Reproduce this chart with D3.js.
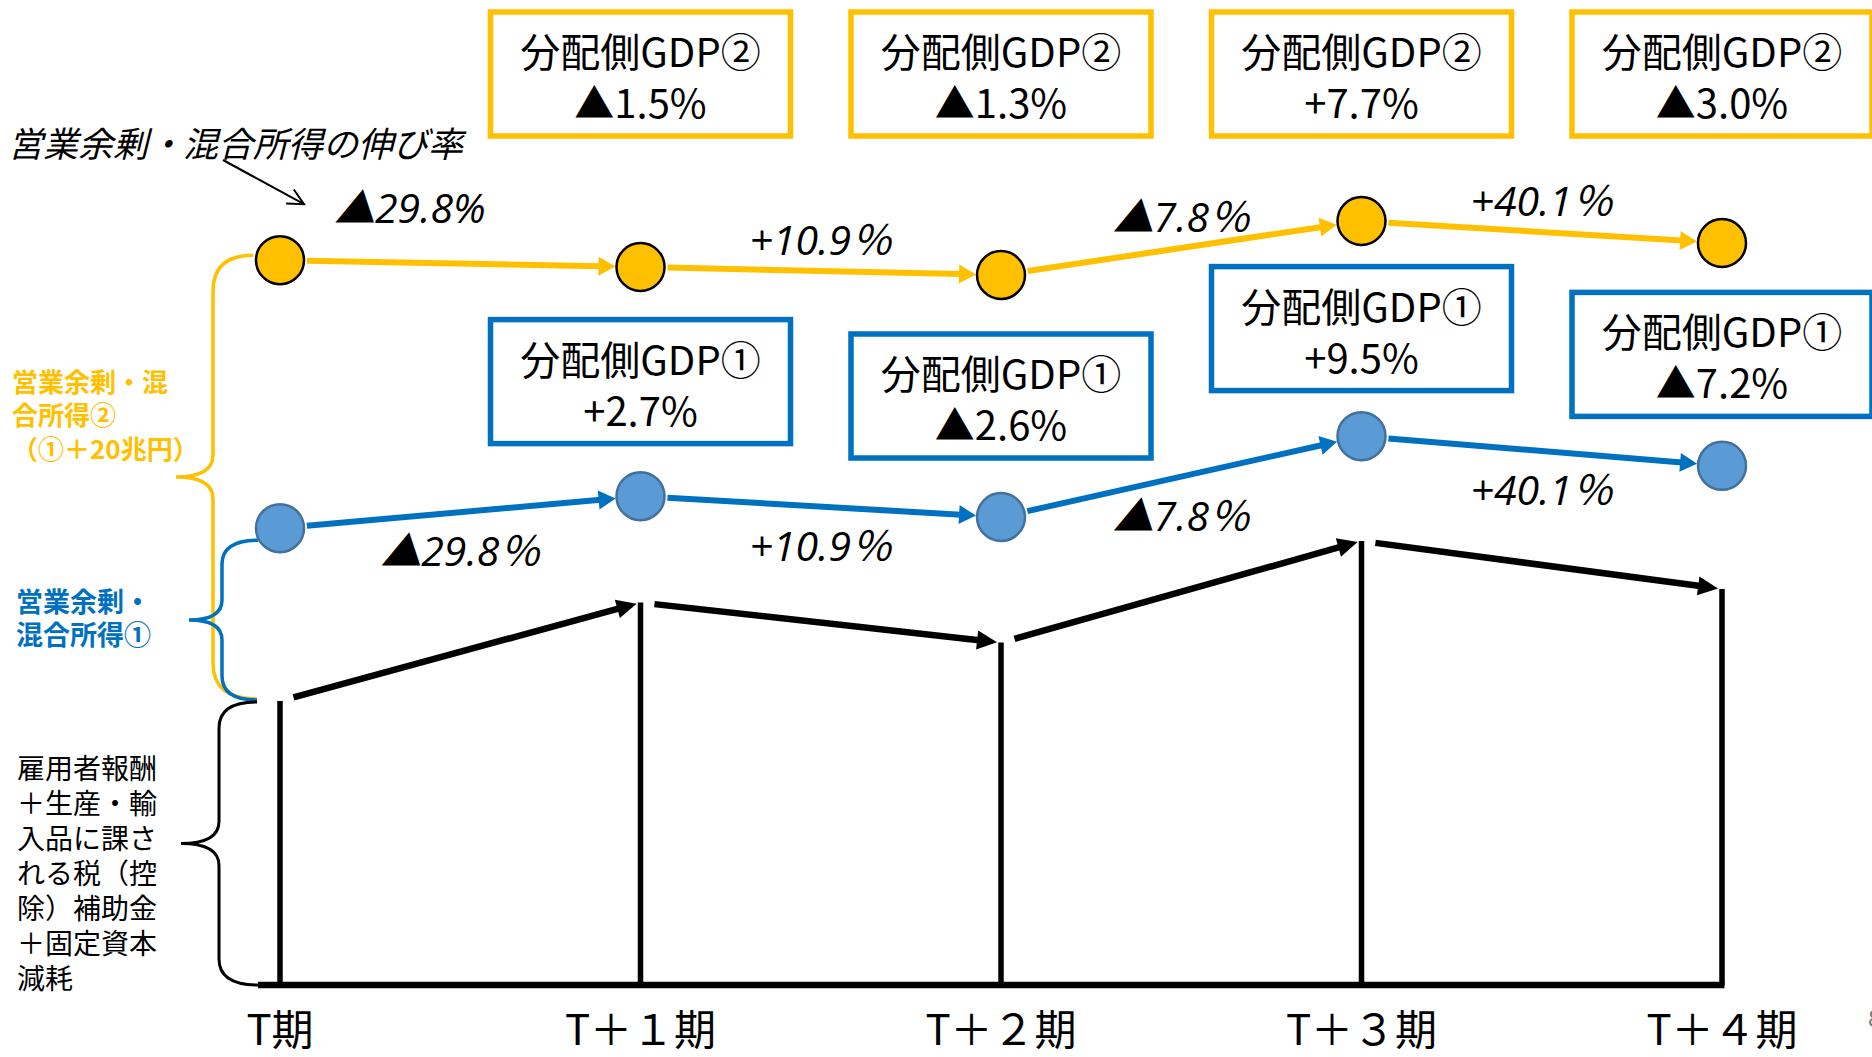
<!DOCTYPE html>
<html><head><meta charset="utf-8">
<script src="https://cdn.jsdelivr.net/npm/d3@7"></script>
<style>html,body{margin:0;padding:0;background:#fff;overflow:hidden}</style>
</head><body><svg id="c" width="1872" height="1057"></svg>
<script>
// ---- data (levels in relative units) ----
const periods = ["T期", "T＋１期", "T＋２期", "T＋３期", "T＋４期"];
const baseLevel = [35.5, 47.8, 42.8, 55.5, 49.5];      // 雇用者報酬＋… level
const blueLevel = [57.1, 61.1, 58.5, 68.6, 64.9];      // 営業余剰・混合所得①
const yellowLevel = [90.6, 89.75, 88.75, 95.5, 92.75]; // 営業余剰・混合所得②
const yellowRates = ["▲29.8%", "+10.9％", "▲7.8％", "+40.1％"];
const blueRates = ["▲29.8％", "+10.9％", "▲7.8％", "+40.1％"];
const gdp2Rates = ["▲1.5%", "▲1.3%", "+7.7%", "▲3.0%"];
const gdp1Rates = ["+2.7%", "▲2.6%", "+9.5%", "▲7.2%"];
const gdp2Title = "分配側GDP②";
const gdp1Title = "分配側GDP①";
const titleText = "営業余剰・混合所得の伸び率";
const yellowLabel = ["営業余剰・混", "合所得②", "（①＋20兆円）"];
const blueLabel = ["営業余剰・", "混合所得①"];
const baseLabel = ["雇用者報酬", "＋生産・輸", "入品に課さ", "れる税（控", "除）補助金", "＋固定資本", "減耗"];

// ---- setup ----
const svg = d3.select("#c");
svg.append("rect").attr("width", 1872).attr("height", 1057).attr("fill", "#fff");
const x = d3.scalePoint().domain(periods).range([280, 1722]);
const y = d3.scaleLinear().domain([0, 100]).range([985, 185]);
const YEL = "#FFC000", BLUE = "#0070C0", BLUEFILL = "#5B9BD5", BLUESTROKE = "#41719C";
const JP = "'Noto Sans CJK JP','Noto Sans',sans-serif";
const NUM = "'Open Sans','Noto Sans CJK JP',sans-serif";
const R = 24;

function arrow(g, x1, y1, x2, y2, o) {
  const dx = x2 - x1, dy = y2 - y1, L = Math.hypot(dx, dy), ux = dx / L, uy = dy / L;
  const sx = x1 + ux * o.startGap, sy = y1 + uy * o.startGap;
  const tx = x2 - ux * o.endGap, ty = y2 - uy * o.endGap;
  const bx = tx - ux * o.headLen, by = ty - uy * o.headLen;
  g.append("line").attr("x1", sx).attr("y1", sy).attr("x2", bx + ux * 2).attr("y2", by + uy * 2)
    .attr("stroke", o.color).attr("stroke-width", o.width);
  const px = -uy, py = ux, hw = o.headW / 2;
  g.append("path").attr("d", `M${tx},${ty}L${bx + px * hw},${by + py * hw}L${bx - px * hw},${by - py * hw}Z`)
    .attr("fill", o.color);
}
function brace(g, bx, tipX, y0, y1, end0, end1, rEnd, rMid, color, w) {
  const ym = (y0 + y1) / 2;
  const d = `M${end0},${y0}Q${bx},${y0} ${bx},${y0 + rEnd}L${bx},${ym - rMid}Q${bx},${ym} ${tipX},${ym}` +
    `Q${bx},${ym} ${bx},${ym + rMid}L${bx},${y1 - rEnd}Q${bx},${y1} ${end1},${y1}`;
  g.append("path").attr("d", d).attr("fill", "none").attr("stroke", color).attr("stroke-width", w);
}

const x0 = x(periods[0]);

// ---- braces ----
const gb = svg.append("g");
brace(gb, x0 - 67, x0 - 104, y(yellowLevel[0]) - 5, y(baseLevel[0]) - 2, x0 - 27, x0 - 23, 36, 22, YEL, 3.5);
brace(gb, x0 - 58, x0 - 91, y(blueLevel[0]) + 12, y(baseLevel[0]) - 1, x0 - 22, x0 - 23, 24, 20, BLUE, 3.5);
brace(gb, x0 - 61, x0 - 99, y(baseLevel[0]) + 1, y(0), x0 - 23, x0 - 22, 26, 22, "#000", 3);

// ---- base bars and axis ----
const gbar = svg.append("g");
gbar.append("line").attr("x1", x0 - 22).attr("x2", x(periods[4]) + 2.5).attr("y1", y(0)).attr("y2", y(0))
  .attr("stroke", "#000").attr("stroke-width", 6.5);
periods.forEach((p, i) => {
  gbar.append("line").attr("x1", x(p)).attr("x2", x(p)).attr("y1", y(baseLevel[i])).attr("y2", y(0))
    .attr("stroke", "#000").attr("stroke-width", 5.5);
});
d3.pairs(periods.map((p, i) => [x(p), y(baseLevel[i])])).forEach(([a, b]) => {
  arrow(gbar, a[0], a[1], b[0], b[1], { color: "#000", width: 6.5, startGap: 14, endGap: 4, headLen: 20, headW: 19 });
});

// ---- series lines ----
function series(levels, color, fill, stroke, rates, below) {
  const g = svg.append("g");
  const pts = periods.map((p, i) => [x(p), y(levels[i])]);
  d3.pairs(pts).forEach(([a, b], i) => {
    arrow(g, a[0], a[1], b[0], b[1], { color, width: 6, startGap: R + 3, endGap: R + 1, headLen: 17, headW: 19 });
    // label placed along the segment; first yellow label sits nearer the start, next to the callout
    const t = (!below && i === 0) ? 0.36 : 0.5;
    const mx = a[0] + (b[0] - a[0]) * t, my = a[1] + (b[1] - a[1]) * t;
    const dy = below ? 38 : (i === 0 ? -56 : -32);
    g.append("text").attr("x", mx).attr("y", my + dy)
      .attr("text-anchor", "middle").attr("dominant-baseline", "central")
      .attr("font-family", NUM).attr("font-style", "italic").attr("font-size", 41).attr("fill", "#000")
      .text(rates[i]);
  });
  g.selectAll("circle").data(pts).join("circle")
    .attr("cx", d => d[0]).attr("cy", d => d[1]).attr("r", R)
    .attr("fill", fill).attr("stroke", stroke).attr("stroke-width", 2.5);
}
series(yellowLevel, YEL, YEL, "#000", yellowRates, false);
series(blueLevel, BLUE, BLUEFILL, BLUESTROKE, blueRates, true);

// ---- boxes ----
function box(cx, top, color, title, rate) {
  const g = svg.append("g");
  g.append("rect").attr("x", cx - 150).attr("y", top).attr("width", 300).attr("height", 124)
    .attr("fill", "#fff").attr("stroke", color).attr("stroke-width", 5.5);
  g.append("text").attr("x", cx).attr("y", top + 38).attr("text-anchor", "middle").attr("dominant-baseline", "central")
    .attr("font-family", JP).attr("font-size", 40).attr("fill", "#000").text(title);
  g.append("text").attr("x", cx).attr("y", top + 89).attr("text-anchor", "middle").attr("dominant-baseline", "central")
    .attr("font-family", JP).attr("font-size", 40).attr("fill", "#000").text(rate);
}
periods.slice(1).forEach((p, i) => {
  box(x(p), 12, YEL, gdp2Title, gdp2Rates[i]);
  const mid = (y(yellowLevel[i + 1]) + y(blueLevel[i + 1])) / 2;
  box(x(p), mid - 62, BLUE, gdp1Title, gdp1Rates[i]);
});

// ---- title & callout ----
svg.append("text").attr("x", 8).attr("y", 141).attr("dominant-baseline", "central")
  .attr("font-family", JP).attr("font-style", "italic").attr("font-size", 35).attr("fill", "#000").text(titleText);
(function () {
  const sx = x0 - 57, sy = 160, tx = x0 + 24, ty = y(yellowLevel[0]) - 56;
  const dx = tx - sx, dy = ty - sy, L = Math.hypot(dx, dy), ux = dx / L, uy = dy / L, px = -uy, py = ux;
  svg.append("line").attr("x1", sx).attr("y1", sy).attr("x2", tx).attr("y2", ty).attr("stroke", "#000").attr("stroke-width", 2);
  svg.append("path").attr("d", `M${tx - ux * 16 + px * 8},${ty - uy * 16 + py * 8}L${tx},${ty}L${tx - ux * 16 - px * 8},${ty - uy * 16 - py * 8}`)
    .attr("fill", "none").attr("stroke", "#000").attr("stroke-width", 2);
})();

// ---- left labels ----
function lines(arr, xx, y0, dy, size, color, weight) {
  svg.append("g").selectAll("text").data(arr).join("text")
    .attr("x", xx).attr("y", (d, i) => y0 + i * dy).attr("dominant-baseline", "central")
    .attr("font-family", JP).attr("font-size", size).attr("font-weight", weight).attr("fill", color).text(d => d);
}
lines(yellowLabel, 12, 380, 33.5, 26, YEL, 700);
lines(blueLabel, 16, 600, 33, 27, BLUE, 700);
lines(baseLabel, 17, 767, 35, 28, "#000", 400);

// ---- period labels ----
svg.append("g").selectAll("text").data(periods).join("text")
  .attr("x", d => x(d)).attr("y", 1026).attr("text-anchor", "middle").attr("dominant-baseline", "central")
  .attr("font-family", JP).attr("font-size", 42).attr("fill", "#000").text(d => d);

// page number (cut off at edge)
svg.append("text").attr("x", 1868).attr("y", 1016).attr("dominant-baseline", "central")
  .attr("font-family", JP).attr("font-size", 24).attr("fill", "#777").text("8");
</script></body></html>
